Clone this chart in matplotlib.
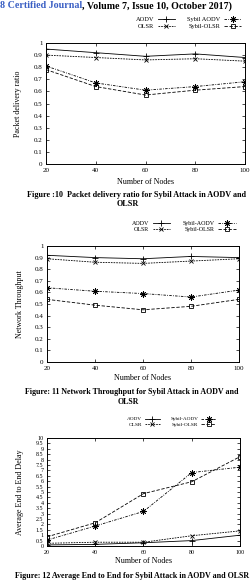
import matplotlib
matplotlib.use("Agg")
import matplotlib.pyplot as plt

plt.rcParams['font.family'] = ['Liberation Serif', 'DejaVu Serif']

W, H = 251, 580

nodes = [20, 40, 60, 80, 100]

# Figure 10: Packet delivery ratio
pdr_aodv = [0.95, 0.92, 0.89, 0.91, 0.88]
pdr_olsr = [0.90, 0.88, 0.86, 0.87, 0.85]
pdr_sybil_aodv = [0.81, 0.67, 0.61, 0.64, 0.68]
pdr_sybil_olsr = [0.78, 0.64, 0.57, 0.61, 0.64]

# Figure 11: Network throughput
thr_aodv = [0.92, 0.90, 0.89, 0.91, 0.90]
thr_olsr = [0.89, 0.86, 0.85, 0.87, 0.89]
thr_sybil_aodv = [0.64, 0.61, 0.59, 0.56, 0.62]
thr_sybil_olsr = [0.54, 0.49, 0.45, 0.48, 0.54]

# Figure 12: Average end to end delay
del_aodv = [0.10, 0.15, 0.30, 0.50, 1.00]
del_olsr = [0.25, 0.35, 0.35, 0.95, 1.40]
del_sybil_aodv = [0.55, 1.85, 3.20, 6.80, 7.30]
del_sybil_olsr = [0.85, 2.15, 4.85, 5.95, 8.27]

yticks_frac = [0, 0.1, 0.2, 0.3, 0.4, 0.5, 0.6, 0.7, 0.8, 0.9, 1]
yticks_delay = [i * 0.5 for i in range(21)]

styles = [
    dict(ls='-', marker='+', ms=4.5, mfc='none'),
    dict(ls=(0, (2, 1.2)), marker='x', ms=3.2, mfc='none'),
    dict(ls=(0, (3, 1.5, 1, 1.5)), marker=(8, 2, 0), ms=4.5, mfc='none'),
    dict(ls=(0, (4, 2)), marker='s', ms=3.3, mfc='none'),
]

fig = plt.figure(figsize=(W / 100, H / 100), dpi=100)
fig.patch.set_facecolor('white')


def ax_at(l, t, r, b):
    return fig.add_axes([l / W, 1 - b / H, (r - l) / W, (b - t) / H])


def txt(x, y, s, **kw):
    return fig.text(x / W, 1 - y / H, s, **kw)


def panel(box, data, yticks, ylim, ylabel, ylab_x, xlab_y, tick_fs, leg_y, leg_right, leg_fs, labels, hl):
    l, t, r, b = box
    ax = ax_at(l, t, r, b)
    handles = []
    for vals, st in zip(data, styles):
        h, = ax.plot(nodes, vals, color='black', lw=0.6, mew=0.6, mec='black', **st)
        handles.append(h)
    ax.set_xlim(20, 100)
    ax.set_ylim(*ylim)
    ax.set_xticks(nodes)
    ax.set_yticks(yticks)
    ax.set_yticklabels([('%g' % v) for v in yticks])
    ax.tick_params(direction='in', length=2, width=0.5, top=True, right=True,
                   labelsize=tick_fs, pad=2.5)
    ax.tick_params(axis='x', pad=3)
    for sp in ax.spines.values():
        sp.set_linewidth(0.7)
    txt(ylab_x, (t + b) / 2, ylabel, rotation=90, ha='center', va='center', fontsize=5.8)
    txt((l + r) / 2, xlab_y, "Number of Nodes", ha='center', va='center', fontsize=5.8)
    fig.legend(handles, labels, loc='center right', ncol=2, frameon=False,
               bbox_to_anchor=(leg_right / W, 1 - leg_y / H), fontsize=leg_fs,
               markerfirst=False, handlelength=hl, handletextpad=0.6,
               columnspacing=2.0, labelspacing=0.2, borderpad=0, borderaxespad=0)
    return ax


def fit_text(xc, y, s, width, ha='center', **kw):
    t = txt(xc, y, s, ha=ha, va='center', fontsize=6, **kw)
    fig.canvas.draw()
    w = t.get_window_extent().width
    t.set_fontsize(6 * width / w)
    return t


panel((46, 43, 245, 164),
      [pdr_aodv, pdr_olsr, pdr_sybil_aodv, pdr_sybil_olsr],
      yticks_frac, (0, 1), "Packet delivery ratio", 18, 182, 5.0, 22.8, 241, 4.6,
      ["AODV", "OLSR", "Sybil AODV", "Sybil-OLSR"], 2.6)

panel((47, 246, 239, 362),
      [thr_aodv, thr_olsr, thr_sybil_aodv, thr_sybil_olsr],
      yticks_frac, (0, 1), "Network Throughput", 20, 378, 5.0, 226.5, 236, 4.3,
      ["AODV", "OLSR", "Sybil-AODV", "Sybil-OLSR"], 3.0)

panel((47, 438, 240, 546),
      [del_aodv, del_olsr, del_sybil_aodv, del_sybil_olsr],
      yticks_delay, (0, 10), "Average End to End Delay", 20, 561, 4.3, 422, 216, 3.8,
      ["AODV", "OLSR", "Sybil-AODV", "Sybil-OLSR"], 2.8)

# Captions
c1 = fit_text(137, 195, "Figure :10  Packet delivery ratio for Sybil Attack in AODV and", 222, fontweight='bold')
txt(128, 204, "OLSR", ha='center', va='center', fontsize=c1.get_fontsize(), fontweight='bold')
c2 = fit_text(132, 392, "Figure: 11 Network Throughput for Sybil Attack in AODV and", 215, fontweight='bold')
txt(128, 402, "OLSR", ha='center', va='center', fontsize=c2.get_fontsize(), fontweight='bold')
fit_text(132.5, 576, "Figure: 12 Average End to End for Sybil Attack in AODV and OLSR", 235, fontweight='bold')

# Header (page running head)
h1 = txt(0, 6, "8 Certified Journal", ha='left', va='center', fontsize=6, fontweight='bold', color='#3a5fc4')
fig.canvas.draw()
w1 = h1.get_window_extent().width
fs = 6 * 82 / w1
h1.set_fontsize(fs)
txt(82, 6, ", Volume 7, Issue 10, October 2017)", ha='left', va='center', fontsize=fs,
    fontweight='bold', color='black')

fig.savefig("out.png", dpi=100, facecolor='white')
